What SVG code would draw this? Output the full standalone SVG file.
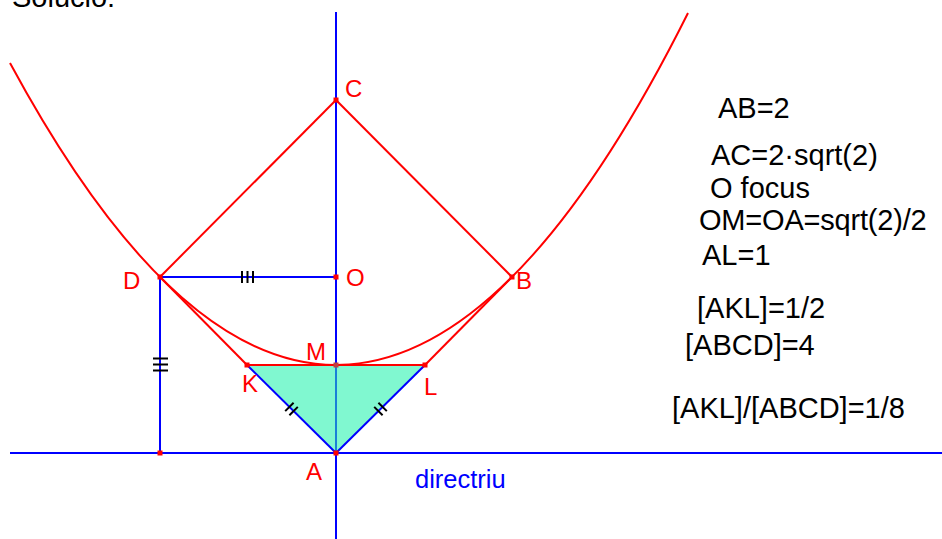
<svg xmlns="http://www.w3.org/2000/svg" width="942" height="539" viewBox="0 0 942 539">
<style>
.r{stroke:#ff0000;stroke-width:2;fill:none}
.b{stroke:#0000ff;stroke-width:2;fill:none}
.k{stroke:#000000;stroke-width:2;fill:none}
.pt{fill:#ff0000}
.lbl{font-family:"Liberation Sans",Arial,sans-serif;font-size:24px;fill:#ff0000}
.txt{font-family:"Liberation Sans",Arial,sans-serif;font-size:29px;fill:#000000}
</style>
<rect width="942" height="539" fill="#ffffff"/>
<text class="txt" x="12" y="7">Solucio:</text>
<g id="triangle-AKL">
<polygon points="247,365 425,365 336,453" fill="#80f8d0"/>
</g>
<g id="connectors">
<line class="b" x1="10" y1="453" x2="942" y2="453"/>
<line class="b" x1="336" y1="12" x2="336" y2="365"/>
<line class="b" x1="336" y1="365" x2="336" y2="453" style="stroke:#1a7fd8"/>
<line class="b" x1="336" y1="453" x2="336" y2="539"/>
<line class="b" x1="160" y1="277" x2="336" y2="277"/>
<line class="b" x1="160" y1="277" x2="160" y2="453"/>
<line class="b" x1="247" y1="365" x2="336" y2="453"/>
<line class="b" x1="425" y1="365" x2="336" y2="453"/>
<line class="r" x1="336" y1="100" x2="160" y2="277"/>
<line class="r" x1="336" y1="100" x2="512" y2="277"/>
<line class="r" x1="160" y1="277" x2="247" y2="365"/>
<line class="r" x1="512" y1="277" x2="425" y2="365"/>
<line class="r" x1="247" y1="365" x2="425" y2="365"/>
<path class="r" d="M10,63.07 Q349,691 688,13"/>
<g id="ticks">
<path class="k" d="M242,271 V283 M247.5,271 V283 M253,271 V283"/>
<path class="k" d="M153,358.5 H168 M153,364.5 H168 M153,370.5 H168"/>
<path class="k" d="M285.2,411.1 L293.6,402.7 M289.4,415.3 L297.8,406.9"/>
<path class="k" d="M374.2,406.9 L382.6,415.3 M378.4,402.7 L386.8,411.1"/>
</g>
</g>
<g id="point-C"><rect class="pt" x="333.5" y="97.5" width="5" height="5"/><text class="lbl" x="345" y="97">C</text></g>
<g id="point-O"><rect class="pt" x="333.5" y="274.5" width="5" height="5"/><text class="lbl" x="346" y="286">O</text></g>
<g id="point-D"><rect class="pt" x="157.5" y="274.5" width="5" height="5"/><text class="lbl" x="123" y="289">D</text></g>
<g id="point-B"><rect class="pt" x="509.5" y="274.5" width="5" height="5"/><text class="lbl" x="516" y="289">B</text></g>
<g id="point-M"><rect x="333.5" y="362.5" width="5" height="5" fill="#c04040"/><text class="lbl" x="306" y="360">M</text></g>
<g id="point-K"><rect class="pt" x="244.5" y="362.5" width="5" height="5"/><text class="lbl" x="242" y="392">K</text></g>
<g id="point-L"><rect class="pt" x="422.5" y="362.5" width="5" height="5"/><text class="lbl" x="424" y="395">L</text></g>
<g id="point-A"><rect class="pt" x="333.5" y="450.5" width="5" height="5"/><text class="lbl" x="306" y="480">A</text></g>
<g id="point-foot"><rect class="pt" x="157.5" y="450.5" width="5" height="5"/></g>
<g id="label-directriu"><text x="415" y="488" style="font-family:'Liberation Sans',Arial,sans-serif;font-size:25.5px;fill:#0000ff">directriu</text></g>
<g id="notes">
<text class="txt" x="718" y="118">AB=2</text>
<text class="txt" x="711" y="165">AC=2·sqrt(2)</text>
<text class="txt" x="710" y="198">O focus</text>
<text class="txt" x="699" y="230" letter-spacing="-0.2">OM=OA=sqrt(2)/2</text>
<text class="txt" x="702" y="265">AL=1</text>
<text class="txt" x="697" y="318">[AKL]=1/2</text>
<text class="txt" x="685" y="355">[ABCD]=4</text>
<text class="txt" x="672" y="418">[AKL]/[ABCD]=1/8</text>
</g>
</svg>
